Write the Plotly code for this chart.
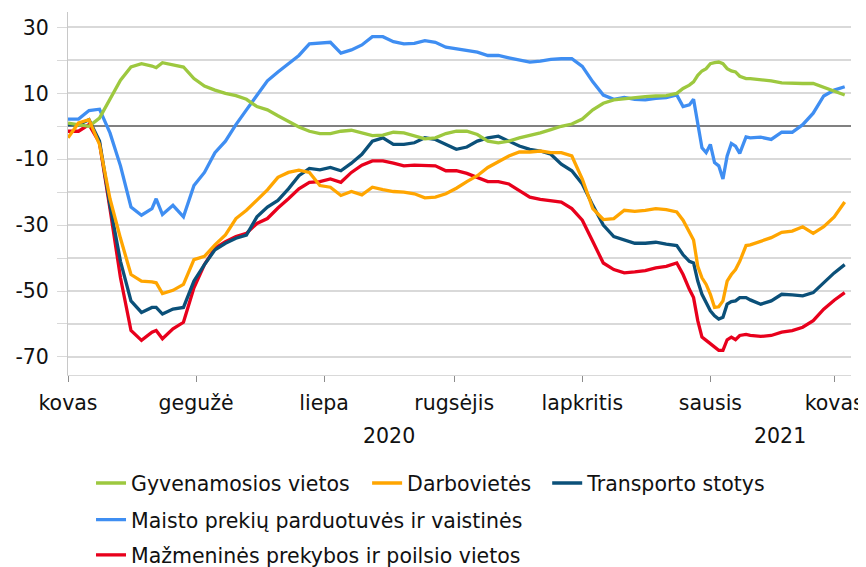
import pandas as pd

import plotly.graph_objs as go


# day offsets from 2020-03-01 (denser around the January dip)
day_offsets = [0, 5, 10, 15, 20, 25, 30, 35, 40, 42, 45, 50, 55, 60, 65, 70, 75, 80, 85, 90, 95,
               100, 105, 110, 115, 120, 125, 130, 135, 140, 145, 150, 155, 160, 165, 170, 175, 180,
               185, 190, 195, 200, 205, 210, 215, 220, 225, 230, 235, 240, 245, 250, 255, 260, 265,
               270, 275, 280, 285, 290, 293, 296, 298, 300, 302, 304, 306, 308, 310, 312, 314, 316,
               318, 320, 323, 325, 330, 335, 340, 345, 350, 355, 360, 365, 370]

gyvenamosios = [1, 0.5, 0, 2.5, 8.5, 14, 18, 19, 18.3, 17.8, 19.3, 18.7, 18, 14.5, 12.2, 11, 10, 9.3, 8.2, 6, 5,
                3.2, 1.5, -0.2, -1.5, -2.2, -2.2, -1.5, -1.2, -2, -2.8, -2.7, -1.8, -2, -2.8, -3.8, -3.5, -2.2,
                -1.5, -1.5, -2.5, -4.5, -5, -4.5, -3.5, -2.8, -2, -1, 0, 0.7, 2.2, 5, 7, 8, 8.4,
                8.8, 9, 9.2, 9.3, 10, 11.5, 12.5, 13.5, 15.5, 16.8, 17.5, 19, 19.3, 19.5, 19, 17.5, 16.8,
                16.5, 15.2, 14.5, 14.5, 14.2, 13.8, 13.2, 13, 13, 13, 11.8, 10.5, 9.5]

darbovietes = [-3.5, 1, 2, -5.5, -22, -34, -45, -47, -47.2, -47.5, -50.8, -49.8, -48, -40.5, -39.5, -36, -33, -28, -25.5, -22.5, -19.3,
               -15.5, -14, -13.3, -14, -18, -18.5, -21, -19.8, -20.8, -18.5, -19.2, -19.8, -20, -20.5, -21.7, -21.5, -20.5,
               -18.8, -16.8, -15, -12.5, -10.8, -9, -7.8, -7.8, -7.5, -8, -8, -9, -16, -25, -28.3, -28, -25.5,
               -25.8, -25.5, -25, -25.3, -26, -28.5, -32, -34.5, -42.5, -46, -48, -51, -55, -54.8, -53, -47, -45,
               -43.5, -41, -36.2, -36, -34.8, -33.8, -32.2, -31.8, -30.5, -32.5, -30.5, -27.5, -23]

transportas = [0.5, 0.5, 2, -4.5, -24, -41, -53, -56.5, -55, -55, -57, -55.5, -55, -47, -42, -37.5, -35.5, -34, -33, -27.5, -24.5,
               -22.5, -19, -15, -12.8, -13.2, -12.5, -13.5, -11.2, -8.5, -4.5, -3.5, -5.5, -5.5, -5, -3.5, -4, -5.5,
               -7, -6.3, -4.5, -3.5, -3, -4.5, -6, -7, -7.5, -8.5, -11.5, -13.5, -17.5, -24, -30, -33.5, -34.5,
               -35.5, -35.5, -35.2, -35.8, -36.2, -39, -41, -41.5, -47, -51, -53.5, -56, -57.5, -58.5, -58, -54, -53.2,
               -53, -52, -52, -52.7, -54, -53, -51, -51.2, -51.5, -50.5, -47.5, -44.5, -42]

maisto = [2.2, 2.2, 4.8, 5.2, -2, -12, -24.5, -27, -25, -22, -26.8, -24, -27.5, -18, -14, -8, -4.5, 0.5, 5, 9.5, 13.8,
          16.5, 19, 21.5, 25, 25.2, 25.5, 22.2, 23.2, 24.7, 27.2, 27.2, 25.7, 25, 25.2, 26, 25.5, 24,
          23.5, 23.2, 22.5, 21.5, 21.5, 20.8, 20.2, 19.5, 19.8, 20.3, 20.5, 20.5, 18.2, 13.5, 9.5, 8.2, 8.8,
          8.2, 8, 8.5, 8.7, 9.5, 6, 6.5, 8.2, 1, -6.5, -8, -5.5, -11, -12, -16, -9, -5.2,
          -6, -8.2, -3.2, -3.5, -3.3, -4, -1.8, -1.8, 0.5, 4, 9.2, 11, 12]

mazmenines = [-1.5, -1.5, 0.5, -5, -25, -46, -62, -65, -62.5, -62, -64.5, -61.5, -59.5, -49, -42, -37, -35, -33.5, -32.5, -29.5, -28,
              -24.8, -22, -19, -17, -16.8, -16, -17, -14, -11.8, -10.5, -10.5, -11.2, -12, -11.8, -11.8, -12, -13.5,
              -13.5, -14.3, -15.5, -16.8, -16.8, -17.5, -19.5, -21.5, -22.2, -22.5, -23, -25, -28.5, -35, -41.5, -43.5, -44.5,
              -44.2, -43.8, -43, -42.5, -41.5, -45, -49.5, -52, -59, -64, -65, -66, -67, -68, -68, -64.8, -64,
              -64.8, -63.5, -63.2, -63.5, -63.8, -63.5, -62.5, -62, -61, -59, -55.5, -52.8, -50.5]

month_ticks = ['2020-03-01', '2020-05-01', '2020-07-01', '2020-09-01', '2020-11-01', '2021-01-01', '2021-03-01']
month_names = ['kovas', 'gegužė', 'liepa', 'rugsėjis', 'lapkritis', 'sausis', 'kovas']
y_ticks = [-70, -50, -30, -10, 10, 30]
y_labels = ['-70', '-50', '-30', '-10', '10', '30']
years = ['2020', '2021']
year_centers = ['2020-08-01', '2021-02-03']

dates = pd.Timestamp('2020-03-01') + pd.to_timedelta(day_offsets, unit='D')

FONT = 'DejaVu Sans'
FSIZE = 20.5

series = [
    # name, values, colour, legend id
    ('Maisto prekių parduotuvės ir vaistinės', maisto, '#3F8EF2', 'legend4'),
    ('Mažmeninės prekybos ir poilsio vietos', mazmenines, '#E8001C', 'legend5'),
    ('Transporto stotys', transportas, '#0B5079', 'legend3'),
    ('Gyvenamosios vietos', gyvenamosios, '#9DC83F', 'legend'),
    ('Darbovietės', darbovietes, '#FFA500', 'legend2'),
]

data = []
for name, vals, col, leg in series:
    data.append(go.Scatter(x=dates, y=vals, name=name, mode='lines',
                           line=dict(color=col, width=3.3), legend=leg))

fig = go.Figure(data=data)


def legend_box(x, y):
    return dict(x=x, y=y, xanchor='left', yanchor='middle', orientation='h',
                bgcolor='rgba(0,0,0,0)', font=dict(family=FONT, size=FSIZE, color='#111111'))


# page body has an 8px margin, so the figure is 8px smaller and margins shifted
fig.update_layout(
    width=858, height=559,
    paper_bgcolor='white', plot_bgcolor='white',
    margin=dict(l=60, r=15, t=4, b=192, autoexpand=False),
    showlegend=True,
    legend=legend_box(0.0294, -0.298),
    legend2=legend_box(0.382, -0.298),
    legend3=legend_box(0.612, -0.298),
    legend4=legend_box(0.0294, -0.399),
    legend5=legend_box(0.0294, -0.496),
    xaxis=dict(
        type='date', automargin=False,
        range=['2020-03-01', '2021-03-09'],
        tickvals=month_ticks, ticktext=month_names,
        ticks='outside', ticklen=6, tickcolor='#8c8c8c', tickwidth=1,
        ticklabelstandoff=3,
        showline=True, linecolor='#d9d9d9', linewidth=1,
        showgrid=False, zeroline=False,
        tickfont=dict(family=FONT, size=FSIZE, color='#111111'),
    ),
    yaxis=dict(
        automargin=False,
        range=[-75.5, 34.7],
        tickmode='array', tickvals=y_ticks, ticktext=y_labels,
        ticks='outside', ticklen=10, tickcolor='#d9d9d9',
        ticklabelstandoff=4,
        showline=True, linecolor='#c8c8c8', linewidth=1,
        showgrid=True, gridcolor='#d9d9d9', gridwidth=1.5,
        minor=dict(tick0=-70, dtick=10, ticks='outside', ticklen=10, tickcolor='#d9d9d9',
                   showgrid=True, gridcolor='#d9d9d9', gridwidth=1.5),
        zeroline=True, zerolinecolor='#808080', zerolinewidth=2,
        tickfont=dict(family=FONT, size=FSIZE, color='#111111'),
    ),
)

for yr, xc in zip(years, year_centers):
    fig.add_annotation(x=xc, y=-0.168, xref='x', yref='paper', text=yr, showarrow=False,
                       xanchor='center', yanchor='middle',
                       font=dict(family=FONT, size=FSIZE, color='#111111'))

fig.write_html("out.html")
